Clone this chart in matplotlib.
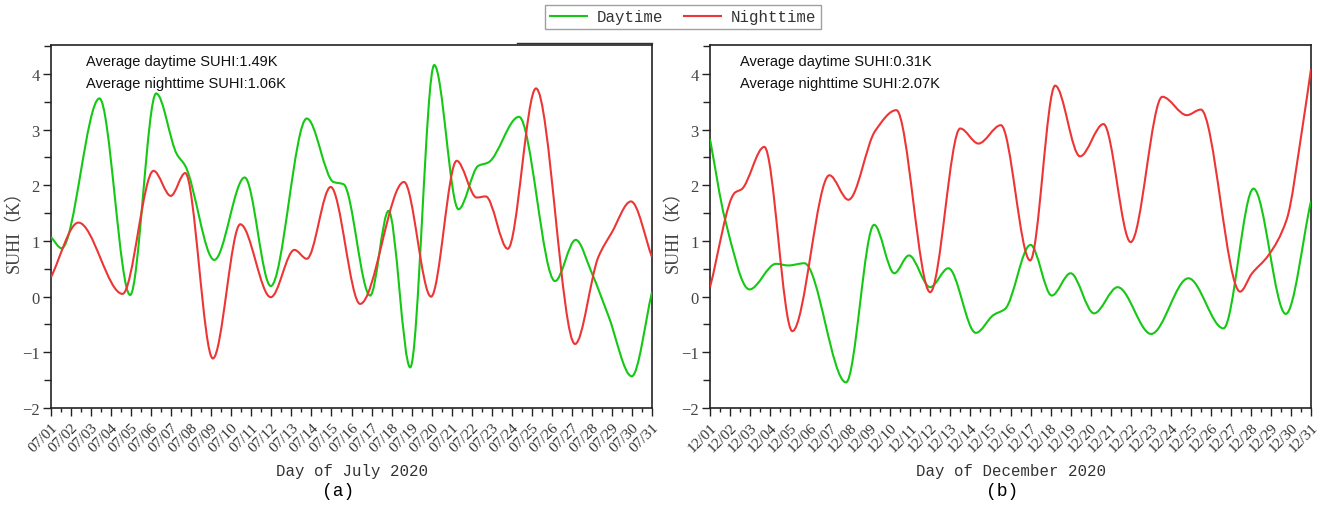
import matplotlib
matplotlib.use("Agg")
import matplotlib.pyplot as plt
from matplotlib.path import Path
from matplotlib.patches import PathPatch
from matplotlib.lines import Line2D
from matplotlib import font_manager
import numpy as np

# ---- data: SUHI (K) at key positions along each month (day of month) ----
jul_day_x = [1.0, 1.53, 3.42, 4.95, 6.25, 7.28, 7.7, 9.15, 10.67, 11.97, 13.77, 15.1, 15.6,
             16.93, 17.85, 18.93, 20.13, 21.34, 22.33, 22.83, 24.36, 26.16, 27.19, 28.0,
             28.82, 29.99, 31.0]
jul_day_y = [1.07, 0.87, 3.56, 0.03, 3.65, 2.56, 2.35, 0.66, 2.14, 0.19, 3.20, 2.06, 2.02,
             0.02, 1.54, -1.27, 4.16, 1.57, 2.35, 2.41, 3.23, 0.28, 1.02, 0.42,
             -0.34, -1.43, 0.08]
jul_night_x = [1.0, 2.37, 4.57, 6.12, 6.98, 7.7, 9.08, 10.45, 11.97, 13.15, 13.77, 14.96,
               16.43, 18.62, 19.97, 21.25, 22.25, 22.7, 23.8, 25.21, 27.16, 28.32, 28.99,
               29.95, 31.0]
jul_night_y = [0.35, 1.33, 0.05, 2.26, 1.81, 2.22, -1.11, 1.30, -0.01, 0.84, 0.68, 1.97,
               -0.13, 2.06, 0.0, 2.44, 1.78, 1.80, 0.86, 3.74, -0.85, 0.71, 1.15,
               1.71, 0.71]
dec_day_x = [1.0, 1.75, 2.97, 4.30, 4.91, 5.71, 7.79, 9.19, 10.2, 10.93, 11.99, 12.9, 14.27,
             15.15, 15.73, 17.0, 18.06, 19.0, 20.17, 21.35, 23.02, 24.88, 26.63, 28.13,
             29.74, 31.0]
dec_day_y = [2.83, 1.39, 0.13, 0.59, 0.56, 0.60, -1.54, 1.29, 0.42, 0.74, 0.17, 0.51, -0.65,
             -0.33, -0.22, 0.93, 0.02, 0.42, -0.30, 0.17, -0.67, 0.33, -0.57, 1.94,
             -0.31, 1.72]
dec_night_x = [1.0, 2.25, 2.58, 3.71, 5.11, 6.96, 7.91, 9.25, 10.3, 11.99, 13.49, 14.4,
               15.52, 16.98, 18.23, 19.47, 20.64, 22.0, 23.58, 24.8, 25.5, 27.46, 28.04,
               28.87, 29.79, 30.56, 31.0]
dec_night_y = [0.17, 1.87, 1.93, 2.69, -0.62, 2.18, 1.74, 2.98, 3.35, 0.08, 3.02, 2.75,
               3.08, 0.65, 3.79, 2.52, 3.10, 0.98, 3.59, 3.26, 3.36, 0.09, 0.41,
               0.74, 1.39, 3.01, 4.09]

jul_labels = ["07/%02d" % d for d in range(1, 32)]
dec_labels = ["12/%02d" % d for d in range(1, 32)]
y_values = [-2, -1, 0, 1, 2, 3, 4]
y_labels = ["\u22122", "\u22121", "0", "1", "2", "3", "4"]
jul_notes = ["Average daytime SUHI:1.49K", "Average nighttime SUHI:1.06K"]
dec_notes = ["Average daytime SUHI:0.31K", "Average nighttime SUHI:2.07K"]

GREEN = "#14C814"
RED = "#EE3535"

names = {f.name for f in font_manager.fontManager.ttflist}
NOTE_FONT = "Liberation Sans Narrow" if "Liberation Sans Narrow" in names else "Liberation Sans"
NOTE_SIZE = 12 if NOTE_FONT == "Liberation Sans Narrow" else 10.5
MONO = ["Liberation Mono", "Noto Sans CJK SC", "DejaVu Sans"]
SERIF = ["Liberation Serif", "Noto Sans CJK SC", "DejaVu Serif"]


def smooth_path(xs, ys):
    """Monotone cubic (Fritsch-Carlson) curve through the points as Bezier segments."""
    x = np.asarray(xs, float)
    y = np.asarray(ys, float)
    h = np.diff(x)
    d = np.diff(y) / h
    m = np.zeros_like(y)
    m[0], m[-1] = d[0], d[-1]
    for k in range(1, len(x) - 1):
        if d[k - 1] * d[k] <= 0:
            m[k] = 0.0
        else:
            w1 = 2 * h[k] + h[k - 1]
            w2 = h[k] + 2 * h[k - 1]
            m[k] = (w1 + w2) / (w1 / d[k - 1] + w2 / d[k])
    verts = [(x[0], y[0])]
    codes = [Path.MOVETO]
    for k in range(len(x) - 1):
        verts += [(x[k] + h[k] / 3, y[k] + m[k] * h[k] / 3),
                  (x[k + 1] - h[k] / 3, y[k + 1] - m[k + 1] * h[k] / 3),
                  (x[k + 1], y[k + 1])]
        codes += [Path.CURVE4] * 3
    return Path(verts, codes)


fig = plt.figure(figsize=(13.29, 5.06), dpi=100)
W, H = 1329, 506
ax1 = fig.add_axes([51 / W, 1 - 409 / H, 601 / W, 363 / H])
ax2 = fig.add_axes([710 / W, 1 - 409 / H, 601 / W, 363 / H])

panels = [
    (ax1, jul_day_x, jul_day_y, jul_night_x, jul_night_y, jul_labels, jul_notes,
     "Day of July 2020", 0.0577),
    (ax2, dec_day_x, dec_day_y, dec_night_x, dec_night_y, dec_labels, dec_notes,
     "Day of December 2020", 0.050),
]

for ax, dx, dy, nx, ny, labels, notes, xlabel, note_x in panels:
    ax.add_patch(PathPatch(smooth_path(dx, dy), fill=False, edgecolor=GREEN, lw=1.5, zorder=3))
    ax.add_patch(PathPatch(smooth_path(nx, ny), fill=False, edgecolor=RED, lw=1.5, zorder=3))
    ax.set_xlim(1, 31)
    ax.set_ylim(-2, 4.52)

    days = np.arange(1, 32)
    ax.set_xticks(days)
    ax.set_xticks(days[:-1] + 0.5, minor=True)
    ax.set_xticklabels(labels, rotation=45, ha="right", va="top", rotation_mode="anchor",
                       family=SERIF, fontsize=11, color="#333333")
    ax.set_yticks(y_values)
    ax.set_yticks(np.arange(-1.5, 4.6, 1.0), minor=True)
    ax.set_yticklabels(y_labels, family=SERIF, fontsize=12, color="#444444")
    ax.tick_params(axis="both", which="major", direction="out", length=6, width=1,
                   pad=2, color="#222222")
    ax.tick_params(axis="y", which="minor", direction="out", length=5, width=1,
                   color="#222222")
    ax.tick_params(axis="x", which="minor", direction="out", length=3, width=1,
                   color="#222222")
    ax.tick_params(axis="x", which="major", pad=3)
    for sp in ax.spines.values():
        sp.set_linewidth(1.2)
        sp.set_color("#222222")

    ax.set_xlabel(xlabel, family=MONO, fontsize=11.3, color="#333333")
    ax.xaxis.set_label_coords(0.5, -0.152)
    ax.set_ylabel("SUHI（K）", family=SERIF, fontsize=13, color="#444444")
    ax.yaxis.set_label_coords(-0.046, 0.5)

    ax.text(note_x, 0.945, notes[0], transform=ax.transAxes, family=NOTE_FONT,
            fontsize=NOTE_SIZE, va="baseline", ha="left", color="#111111")
    ax.text(note_x, 0.885, notes[1], transform=ax.transAxes, family=NOTE_FONT,
            fontsize=NOTE_SIZE, va="baseline", ha="left", color="#111111")

# thin doubled edge along the top right of the first panel
ax1.plot([0.775, 1.0], [1.006, 1.006], transform=ax1.transAxes, color="#333333",
         lw=1.0, clip_on=False)

fig.text(338 / W, 1 - 492 / H, "(a)", family=MONO, fontsize=13, ha="center", va="center")
fig.text(1002 / W, 1 - 492 / H, "(b)", family=MONO, fontsize=13, ha="center", va="center")

handles = [Line2D([], [], color=GREEN, lw=1.5), Line2D([], [], color=RED, lw=1.5)]
leg = fig.legend(handles, ["Daytime", "Nighttime"], loc="upper center",
                 bbox_to_anchor=(683 / W, 1 - 5.5 / H), ncol=2, frameon=True,
                 fancybox=False, prop={"family": MONO, "size": 11.3},
                 handlelength=2.4, handletextpad=0.6, columnspacing=1.3,
                 borderpad=0.3, borderaxespad=0)
leg.get_frame().set_edgecolor("#888888")
leg.get_frame().set_linewidth(1.0)
for t in leg.get_texts():
    t.set_color("#333333")

fig.savefig("out.png", dpi=100)
